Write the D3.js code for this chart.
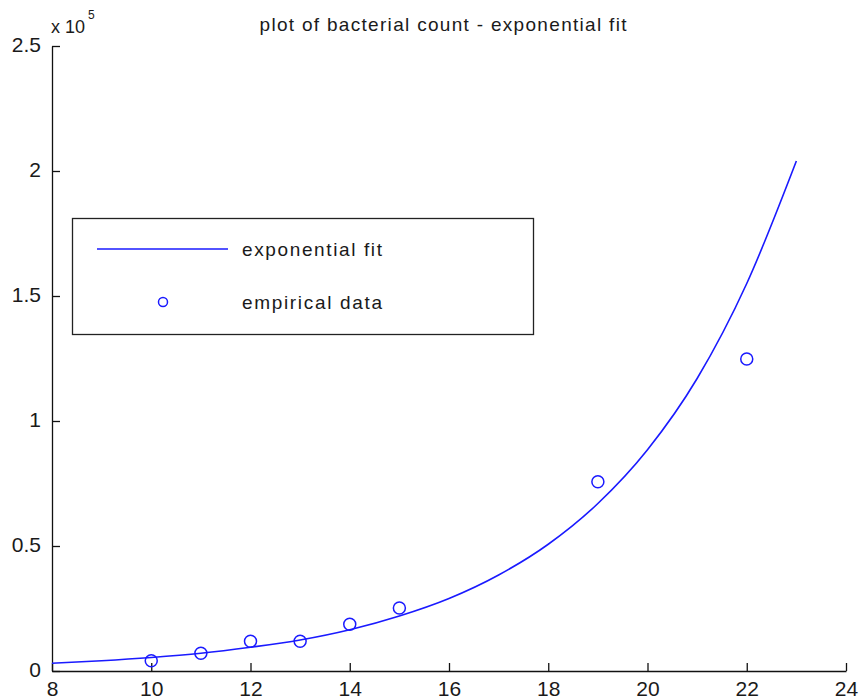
<!DOCTYPE html>
<html>
<head>
<meta charset="utf-8">
<script src="https://cdn.jsdelivr.net/npm/d3@7"></script>
<style>
  html, body { margin: 0; padding: 0; background: #fff; }
  svg { display: block; }
  text { font-family: "Liberation Sans", Arial, sans-serif; fill: #1a1a1a; }
</style>
</head>
<body>
<svg id="chart" width="859" height="700"></svg>
<script>
// Measured bacterial counts (hours, count)
const sampleHours = [10, 11, 12, 13, 14, 15, 19, 22];
const sampleCounts = [4100, 7100, 11900, 11900, 18700, 25200, 75700, 124800];

// Exponential fit curve, evaluated at whole hours
const fitHours = [8, 9, 10, 11, 12, 13, 14, 15, 16, 17, 18, 19, 20, 21, 22, 23];
const fitCounts = [3100, 4100, 5400, 7100, 9500, 12400, 16500, 22000, 29000, 38400, 50700, 67000, 88500, 117000, 155000, 204000];

// Axis ticks
const xTicks = [8, 10, 12, 14, 16, 18, 20, 22, 24];
const yTicks = [0, 0.5, 1, 1.5, 2, 2.5];
const yTickLabels = ["0", "0.5", "1", "1.5", "2", "2.5"];
const yScaleFactor = 1e5;

const titleText = "plot of bacterial count - exponential fit";
const legendLabels = ["exponential fit", "empirical data"];

const svg = d3.select("#chart");
const plotLeft = 52, plotRight = 846, plotTop = 46, plotBottom = 671;
const blue = "#1a1aff";

const x = d3.scaleLinear().domain([8, 24]).range([plotLeft, plotRight]);
const y = d3.scaleLinear().domain([0, 2.5 * yScaleFactor]).range([plotBottom, plotTop]);

// Axes with inward ticks
const xAxis = d3.axisBottom(x).tickValues(xTicks).tickSizeInner(-8).tickSizeOuter(0).tickPadding(10);
const yAxis = d3.axisLeft(y).tickValues(yTicks.map(v => v * yScaleFactor))
  .tickFormat((d, i) => yTickLabels[i]).tickSizeInner(-8).tickSizeOuter(0).tickPadding(11);

const gx = svg.append("g").attr("transform", `translate(0,${plotBottom})`).call(xAxis);
const gy = svg.append("g").attr("transform", `translate(${plotLeft},0)`).call(yAxis);

[gx, gy].forEach(g => {
  g.select(".domain").attr("stroke", "#111").attr("stroke-width", 1.3);
  g.selectAll(".tick line").attr("stroke", "#111").attr("stroke-width", 1.3);
  g.selectAll(".tick text").attr("font-size", 21).attr("fill", "#1a1a1a")
    .attr("font-family", "'Liberation Sans', Arial, sans-serif");
});
gx.selectAll(".tick text").attr("dy", "0.7em");
gy.selectAll(".tick text").attr("dy", "0.26em");

// Scale exponent above the y axis
const expo = svg.append("text").attr("x", 51).attr("y", 33).attr("font-size", 18);
expo.append("tspan").text("x 10");
expo.append("tspan").attr("dx", 3).attr("dy", -14).attr("font-size", 12).text("5");

// Title
svg.append("text").attr("x", 443).attr("y", 31).attr("text-anchor", "middle")
  .attr("font-size", 19).attr("textLength", 367).attr("lengthAdjust", "spacing")
  .text(titleText);

// Fitted curve
const line = d3.line()
  .x((d, i) => x(fitHours[i]))
  .y(d => y(d))
  .curve(d3.curveMonotoneX);

svg.append("path").datum(fitCounts)
  .attr("d", line)
  .attr("fill", "none")
  .attr("stroke", blue)
  .attr("stroke-width", 1.6);

// Data points
svg.append("g").selectAll("circle")
  .data(sampleCounts)
  .join("circle")
  .attr("cx", (d, i) => x(sampleHours[i]))
  .attr("cy", d => y(d))
  .attr("r", 6)
  .attr("fill", "none")
  .attr("stroke", blue)
  .attr("stroke-width", 1.5);

// Legend
const legend = svg.append("g");
legend.append("rect").attr("x", 72.5).attr("y", 218.5).attr("width", 461).attr("height", 116)
  .attr("fill", "#fff").attr("stroke", "#222").attr("stroke-width", 1.3);
legend.append("line").attr("x1", 97).attr("x2", 228).attr("y1", 249).attr("y2", 249)
  .attr("stroke", blue).attr("stroke-width", 1.6);
legend.append("circle").attr("cx", 163).attr("cy", 302).attr("r", 4.5)
  .attr("fill", "none").attr("stroke", blue).attr("stroke-width", 1.5);
legend.selectAll("text.lbl").data(legendLabels).join("text")
  .attr("class", "lbl")
  .attr("x", 242)
  .attr("y", (d, i) => i === 0 ? 256 : 309)
  .attr("font-size", 19)
  .attr("textLength", 140)
  .attr("lengthAdjust", "spacing")
  .text(d => d);
</script>
</body>
</html>
